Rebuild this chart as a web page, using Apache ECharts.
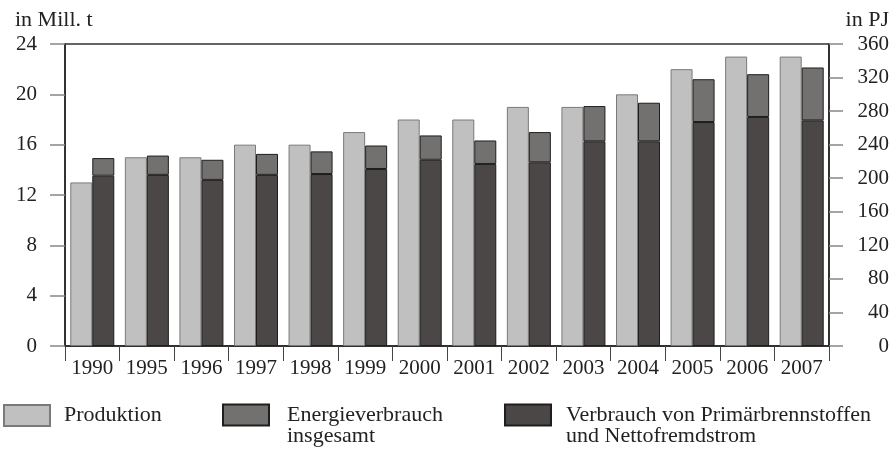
<!DOCTYPE html>
<html>
<head>
<meta charset="utf-8">
<script src="https://cdn.jsdelivr.net/npm/echarts@6/dist/echarts.min.js"></script>
<style>
  html, body { margin: 0; padding: 0; background: #fff; }
  #chart { width: 894px; height: 456px; }
</style>
</head>
<body>
<div id="chart"></div>
<script>
const years = ['1990', '1995', '1996', '1997', '1998', '1999', '2000',
               '2001', '2002', '2003', '2004', '2005', '2006', '2007'];
// Mill. t (linke Achse)
const produktion = [13, 15, 15, 16, 16, 17, 18, 18, 19, 19, 20, 22, 23, 23];
// PJ (rechte Achse)
const energieGesamt = [224, 227, 222, 229, 232, 239, 251, 245, 255, 286, 290, 318, 324, 332];
const primaerVerbrauch = [203, 204, 198, 204, 205, 211, 222, 217, 219, 244, 244, 267, 273, 269];

const leftTicks = { min: 0, max: 24, interval: 4 };
const rightTicks = { min: 0, max: 360, interval: 40 };

const FONT = 'Liberation Serif';
const TXT = '#222';

// Energieverbrauch wird als Aufsatz auf dem Primärverbrauch gestapelt
const energieRest = energieGesamt.map((v, i) => v - primaerVerbrauch[i]);

const chart = echarts.init(document.getElementById('chart'));

function legendBox(name, left, gap, top, fmt) {
    return {
        data: [name],
        left: left,
        top: top,
        padding: 0,
        icon: 'rect',
        itemWidth: 46,
        itemHeight: 21,
        selectedMode: false,
        formatter: fmt || '{name}',
        textStyle: {
            fontFamily: FONT, fontSize: 22, color: TXT,
            lineHeight: 21, padding: [0, 0, 0, gap]
        }
    };
}

const option = {
    animation: false,
    grid: {
        left: 65, right: 65, top: 44, bottom: 110,
        show: true, borderColor: '#333', borderWidth: 1.5
    },
    legend: [
        legendBox('Produktion', 3, 9, 404),
        // leere erste Zeile, damit die erste Textzeile neben dem Kästchen steht
        legendBox('Energieverbrauch insgesamt', 222, 13, 383,
                  () => '\u00a0\nEnergieverbrauch\ninsgesamt'),
        legendBox('Verbrauch von Primärbrennstoffen und Nettofremdstrom', 504, 10, 383,
                  () => '\u00a0\nVerbrauch von Primärbrennstoffen\nund Nettofremdstrom')
    ],
    graphic: [
        { type: 'text', left: 15, top: 9,
          style: { text: 'in Mill. t', font: '22px "Liberation Serif"', fill: TXT } },
        { type: 'text', right: 5, top: 9,
          style: { text: 'in PJ', font: '22px "Liberation Serif"', fill: TXT } }
    ],
    xAxis: {
        type: 'category',
        data: years,
        axisLine: { lineStyle: { color: '#222', width: 1.5 } },
        axisTick: { show: true, length: 15, lineStyle: { color: '#444' } },
        axisLabel: { fontFamily: FONT, fontSize: 21, color: TXT, margin: 12, interval: 0 }
    },
    yAxis: [
        {
            type: 'value', position: 'left',
            min: leftTicks.min, max: leftTicks.max, interval: leftTicks.interval,
            axisLine: { show: true, lineStyle: { color: '#222', width: 1.5 } },
            axisTick: { show: true, length: 15, lineStyle: { color: '#888', width: 1.5 } },
            splitLine: { show: false },
            axisLabel: { fontFamily: FONT, fontSize: 21, color: TXT, margin: 28 }
        },
        {
            type: 'value', position: 'right',
            min: rightTicks.min, max: rightTicks.max, interval: rightTicks.interval,
            axisLine: { show: true, lineStyle: { color: '#222', width: 1.5 } },
            axisTick: { show: true, length: 14, lineStyle: { color: '#888', width: 1.5 } },
            splitLine: { show: false },
            axisLabel: { fontFamily: FONT, fontSize: 21, color: TXT, margin: 60, align: 'right' }
        }
    ],
    series: [
        {
            name: 'Produktion', type: 'bar', yAxisIndex: 0,
            barWidth: 22, barGap: '0%',
            data: produktion,
            itemStyle: { color: '#c0c0c0', borderColor: '#7a7a7a', borderWidth: 1 }
        },
        {
            name: 'Verbrauch von Primärbrennstoffen und Nettofremdstrom', type: 'bar', yAxisIndex: 1,
            stack: 'pj', barWidth: 22, barGap: '0%',
            data: primaerVerbrauch,
            itemStyle: { color: '#4b4747', borderColor: '#1e1e1e', borderWidth: 1 }
        },
        {
            name: 'Energieverbrauch insgesamt', type: 'bar', yAxisIndex: 1,
            stack: 'pj', barWidth: 22, barGap: '0%',
            data: energieRest,
            itemStyle: { color: '#737170', borderColor: '#1e1e1e', borderWidth: 1 }
        }
    ]
};

chart.setOption(option);
window.addEventListener('resize', () => chart.resize());
</script>
</body>
</html>
